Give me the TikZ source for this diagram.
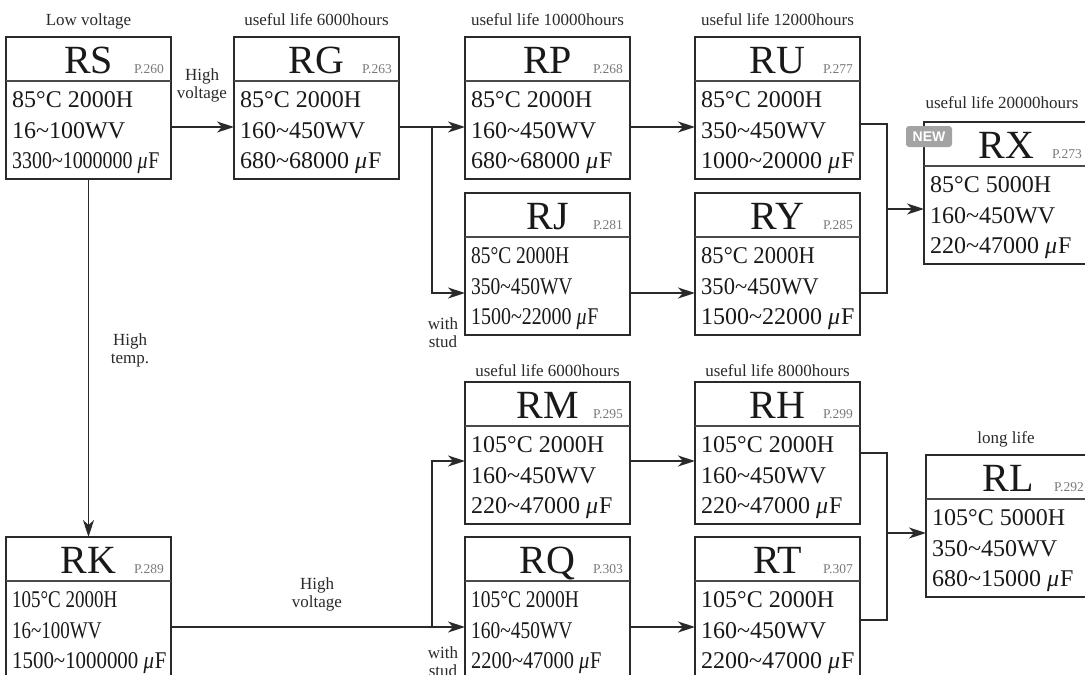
\documentclass[tikz,border=0pt]{standalone}
\usepackage{fontspec}
\usepackage{graphicx}
\setmainfont{Liberation Serif}
\newfontfamily\badgefont{Liberation Sans}
\usetikzlibrary{arrows.meta}
\definecolor{framecol}{HTML}{2A2A2A}
\definecolor{pagecol}{HTML}{7A7A7A}
\definecolor{labelcol}{HTML}{2A2A2A}
\definecolor{badgecol}{HTML}{A3A3A3}
\newcommand\tld{\textasciitilde}
\newcommand\muF{\textit{μ}\kern1pt F}
\tikzset{
  boxframe/.style={draw=framecol, line width=1.5pt, minimum width=165pt, minimum height=142pt, inner sep=0pt, outer sep=0pt, anchor=north west},
  divider/.style={draw=framecol!85, line width=1.5pt},
  titletext/.style={font=\fontsize{40}{40}\selectfont, text=black!90, inner sep=0pt},
  pagetext/.style={font=\fontsize{13.5}{14}\selectfont, text=pagecol, inner sep=0pt},
  bodytext/.style={font=\fontsize{24}{24}\selectfont, text=black!90, inner sep=0pt},
  labeltext/.style={font=\fontsize{17}{18}\selectfont, text=labelcol, inner sep=0pt, align=center},
  conn/.style={draw=framecol, line width=1.5pt},
  arr/.style={conn, -{Stealth[length=17pt,width=11pt,inset=5pt]}},
  badge/.style={fill=badgecol, rounded corners=3pt, minimum width=46pt, minimum height=21pt, inner sep=0pt, text=white, font=\badgefont\bfseries\fontsize{14}{14}\selectfont},
}
% name, x, y, title, page, row1, row2, row3, xscale of rows 1-2
\newcommand\mkbox[9]{%
  \node[boxframe] (#1) at (#2,#3) {};
  \draw[divider] ([yshift=-44pt]#1.north west) -- ([yshift=-44pt]#1.north east);
  \node[titletext, anchor=base] (#1t) at ([yshift=-36.5pt]#1.north) {#4};
  \node[pagetext, anchor=base east] (#1p) at ([xshift=-7pt,yshift=-36.5pt]#1.north east) {#5};
  \node[bodytext, anchor=base west] (#1a) at ([xshift=6pt,yshift=-70pt]#1.north west) {\scalebox{#9}[1]{#6}};
  \node[bodytext, anchor=base west] (#1b) at ([xshift=6pt,yshift=-101pt]#1.north west) {\scalebox{#9}[1]{#7}};
  \node[bodytext, anchor=base west] (#1c) at ([xshift=6pt,yshift=-131pt]#1.north west) {#8};
}
\begin{document}
\begin{tikzpicture}[x=1pt,y=-1pt]
\useasboundingbox (0,0) rectangle (1085,675);
\fill[white] (0,0) rectangle (1085,675);

\mkbox{RS}{6}{37}{RS}{P.260}{85°C 2000H}{16\tld100WV}{\scalebox{0.83}[1]{3300\tld1000000 \muF}}{1}
\mkbox{RG}{234}{37}{RG}{P.263}{85°C 2000H}{160\tld450WV}{680\tld68000 \muF}{1}
\mkbox{RP}{465}{37}{RP}{P.268}{85°C 2000H}{160\tld450WV}{680\tld68000 \muF}{1}
\mkbox{RU}{695}{37}{RU}{P.277}{85°C 2000H}{350\tld450WV}{1000\tld20000 \muF}{1}
\mkbox{RJ}{465}{193}{RJ}{P.281}{85°C 2000H}{350\tld450WV}{\scalebox{0.83}[1]{1500\tld22000 \muF}}{0.81}
\mkbox{RY}{695}{193}{RY}{P.285}{85°C 2000H}{350\tld450WV}{1500\tld22000 \muF}{0.94}
\mkbox{RX}{924}{122}{RX}{P.273}{85°C 5000H}{160\tld450WV}{220\tld47000 \muF}{1}
\mkbox{RM}{465}{382}{RM}{P.295}{105°C 2000H}{160\tld450WV}{220\tld47000 \muF}{1}
\mkbox{RH}{695}{382}{RH}{P.299}{105°C 2000H}{160\tld450WV}{220\tld47000 \muF}{1}
\mkbox{RK}{6}{537}{RK}{P.289}{105°C 2000H}{16\tld100WV}{\scalebox{0.87}[1]{1500\tld1000000 \muF}}{0.79}
\mkbox{RQ}{465}{537}{RQ}{P.303}{105°C 2000H}{160\tld450WV}{\scalebox{0.85}[1]{2200\tld47000 \muF}}{0.81}
\mkbox{RT}{695}{537}{RT}{P.307}{105°C 2000H}{160\tld450WV}{2200\tld47000 \muF}{1}
\mkbox{RL}{926}{455}{RL}{P.292}{105°C 5000H}{350\tld450WV}{680\tld15000 \muF}{1}

\node[badge] (new) at (929,136.5) {NEW};

% labels above boxes
\node[labeltext, anchor=base] (lRS) at (88.5,25) {Low voltage};
\node[labeltext, anchor=base] (lRG) at (316.5,25) {useful life 6000hours};
\node[labeltext, anchor=base] (lRP) at (547.5,25) {useful life 10000hours};
\node[labeltext, anchor=base] (lRU) at (777.5,25) {useful life 12000hours};
\node[labeltext, anchor=base] (lRX) at (1002,108) {useful life 20000hours};
\node[labeltext, anchor=base] (lRM) at (547.5,376) {useful life 6000hours};
\node[labeltext, anchor=base] (lRH) at (777.5,376) {useful life 8000hours};
\node[labeltext, anchor=base] (lRL) at (1006,443) {long life};

% connector labels
\node[labeltext] (hv1) at (202,85) {High\\voltage};
\node[labeltext] (ht) at (130,350) {High\\temp.};
\node[labeltext] (hv2) at (317,594) {High\\voltage};
\node[labeltext] (ws1) at (443,333) {with\\stud};
\node[labeltext] (ws2) at (443,662) {with\\stud};

% connectors
\coordinate (j1) at (432,127);
\coordinate (j2) at (887,209);
\coordinate (j3) at (432,627);
\coordinate (j4) at (887,533);
\draw[arr] ([yshift=-19pt]RS.east) -- ([yshift=-19pt]RG.west);
\draw[arr] ([yshift=-19pt]RG.east) -- ([yshift=-19pt]RP.west);
\draw[arr] (j1) |- ([yshift=-29pt]RJ.west);
\draw[arr] ([yshift=-19pt]RP.east) -- ([yshift=-19pt]RU.west);
\draw[arr] ([yshift=-29pt]RJ.east) -- ([yshift=-29pt]RY.west);
\draw[conn] ([yshift=-16pt]RU.east) -| (j2) |- ([yshift=-29pt]RY.east);
\draw[arr] (j2) -- (RX.west |- j2);
\draw[arr] (RS.south) -- (RK.north);
\draw[arr] ([yshift=-19pt]RK.east) -- ([yshift=-19pt]RQ.west);
\draw[arr] (j3) |- ([yshift=-8pt]RM.west);
\draw[arr] ([yshift=-8pt]RM.east) -- ([yshift=-8pt]RH.west);
\draw[arr] ([yshift=-19pt]RQ.east) -- ([yshift=-19pt]RT.west);
\draw[conn] (RH.east) -| (j4) |- ([yshift=-12pt]RT.east);
\draw[arr] (j4) -- (RL.west |- j4);
\end{tikzpicture}
\end{document}
